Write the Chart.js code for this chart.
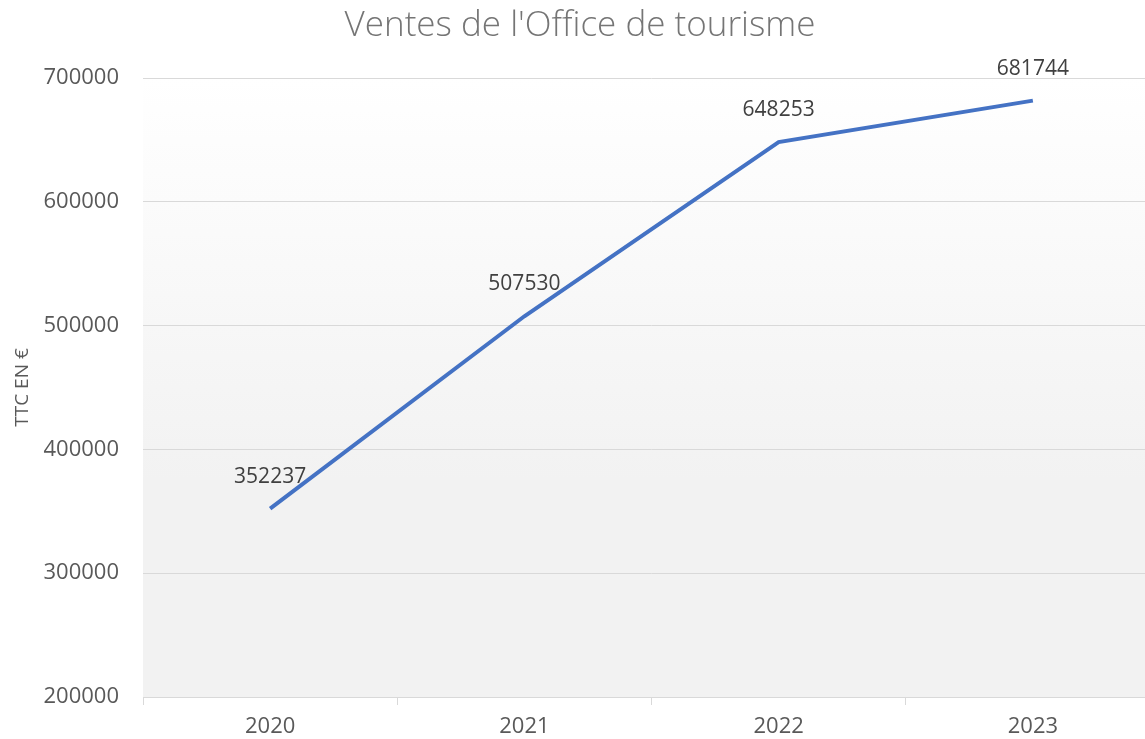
<!DOCTYPE html>
<html>
<head>
<meta charset="utf-8">
<script src="https://cdn.jsdelivr.net/npm/chart.js@4"></script>
<style>
  html, body { margin: 0; padding: 0; background: #fff; overflow: hidden; }
</style>
</head>
<body>
<canvas id="chart" width="1160" height="739"></canvas>
<script>
const years = ['2020', '2021', '2022', '2023'];
const sales = [352237, 507530, 648253, 681744];
const yTicks = [200000, 300000, 400000, 500000, 600000, 700000];

// light gradient behind the plot area
const plotBackground = {
  id: 'plotBackground',
  beforeDraw(chart) {
    const { ctx, chartArea: a } = chart;
    const g = ctx.createLinearGradient(0, a.top, 0, a.bottom);
    g.addColorStop(0, '#ffffff');
    g.addColorStop(0.65, '#f2f2f2');
    g.addColorStop(1, '#f2f2f2');
    ctx.save();
    ctx.fillStyle = g;
    ctx.fillRect(a.left, a.top, a.right - a.left, a.bottom - a.top);
    ctx.restore();
  }
};

// value labels above each point
const valueLabels = {
  id: 'valueLabels',
  afterDatasetsDraw(chart) {
    const { ctx } = chart;
    const meta = chart.getDatasetMeta(0);
    ctx.save();
    ctx.font = '21px "Open Sans"';
    ctx.fillStyle = '#404040';
    ctx.textAlign = 'center';
    ctx.textBaseline = 'middle';
    meta.data.forEach((pt, i) => {
      ctx.fillText(String(sales[i]), pt.x, pt.y - 32);
    });
    ctx.restore();
  }
};

new Chart(document.getElementById('chart'), {
  type: 'line',
  data: {
    labels: years,
    datasets: [{
      data: sales,
      borderColor: '#4472C4',
      borderWidth: 4,
      pointRadius: 0,
      tension: 0,
      fill: false
    }]
  },
  options: {
    responsive: false,
    animation: false,
    layout: { padding: 0 },
    plugins: {
      legend: { display: false },
      tooltip: { enabled: false },
      title: {
        display: true,
        text: "Ventes de l'Office de tourisme",
        color: '#757575',
        font: { family: 'Open Sans', size: 35, weight: '300', lineHeight: 1.2 },
        padding: { top: 5, bottom: 31 }
      }
    },
    scales: {
      x: {
        offset: true,
        afterFit(scale) { scale.height = 42; },
        grid: { offset: true, drawOnChartArea: false, drawTicks: true, tickLength: 8, color: '#d9d9d9' },
        border: { color: '#d9d9d9', width: 1 },
        ticks: { color: '#595959', font: { family: 'Open Sans', size: 22, lineHeight: 1 }, padding: 11, maxRotation: 0 }
      },
      y: {
        min: 200000,
        max: 700000,
        afterBuildTicks(scale) { scale.ticks = yTicks.map(v => ({ value: v })); },
        afterFit(scale) { scale.width = 143; },
        grid: { color: '#d9d9d9', drawTicks: false },
        border: { display: false },
        ticks: {
          color: '#595959',
          font: { family: 'Open Sans', size: 22, lineHeight: 1 },
          padding: 24,
          callback: v => String(v)
        },
        title: {
          display: true,
          text: 'TTC EN €',
          color: '#595959',
          font: { family: 'Open Sans', size: 19, lineHeight: 1.2 },
          padding: { top: 11, bottom: 0 }
        }
      }
    }
  },
  plugins: [plotBackground, valueLabels]
});
</script>
</body>
</html>
